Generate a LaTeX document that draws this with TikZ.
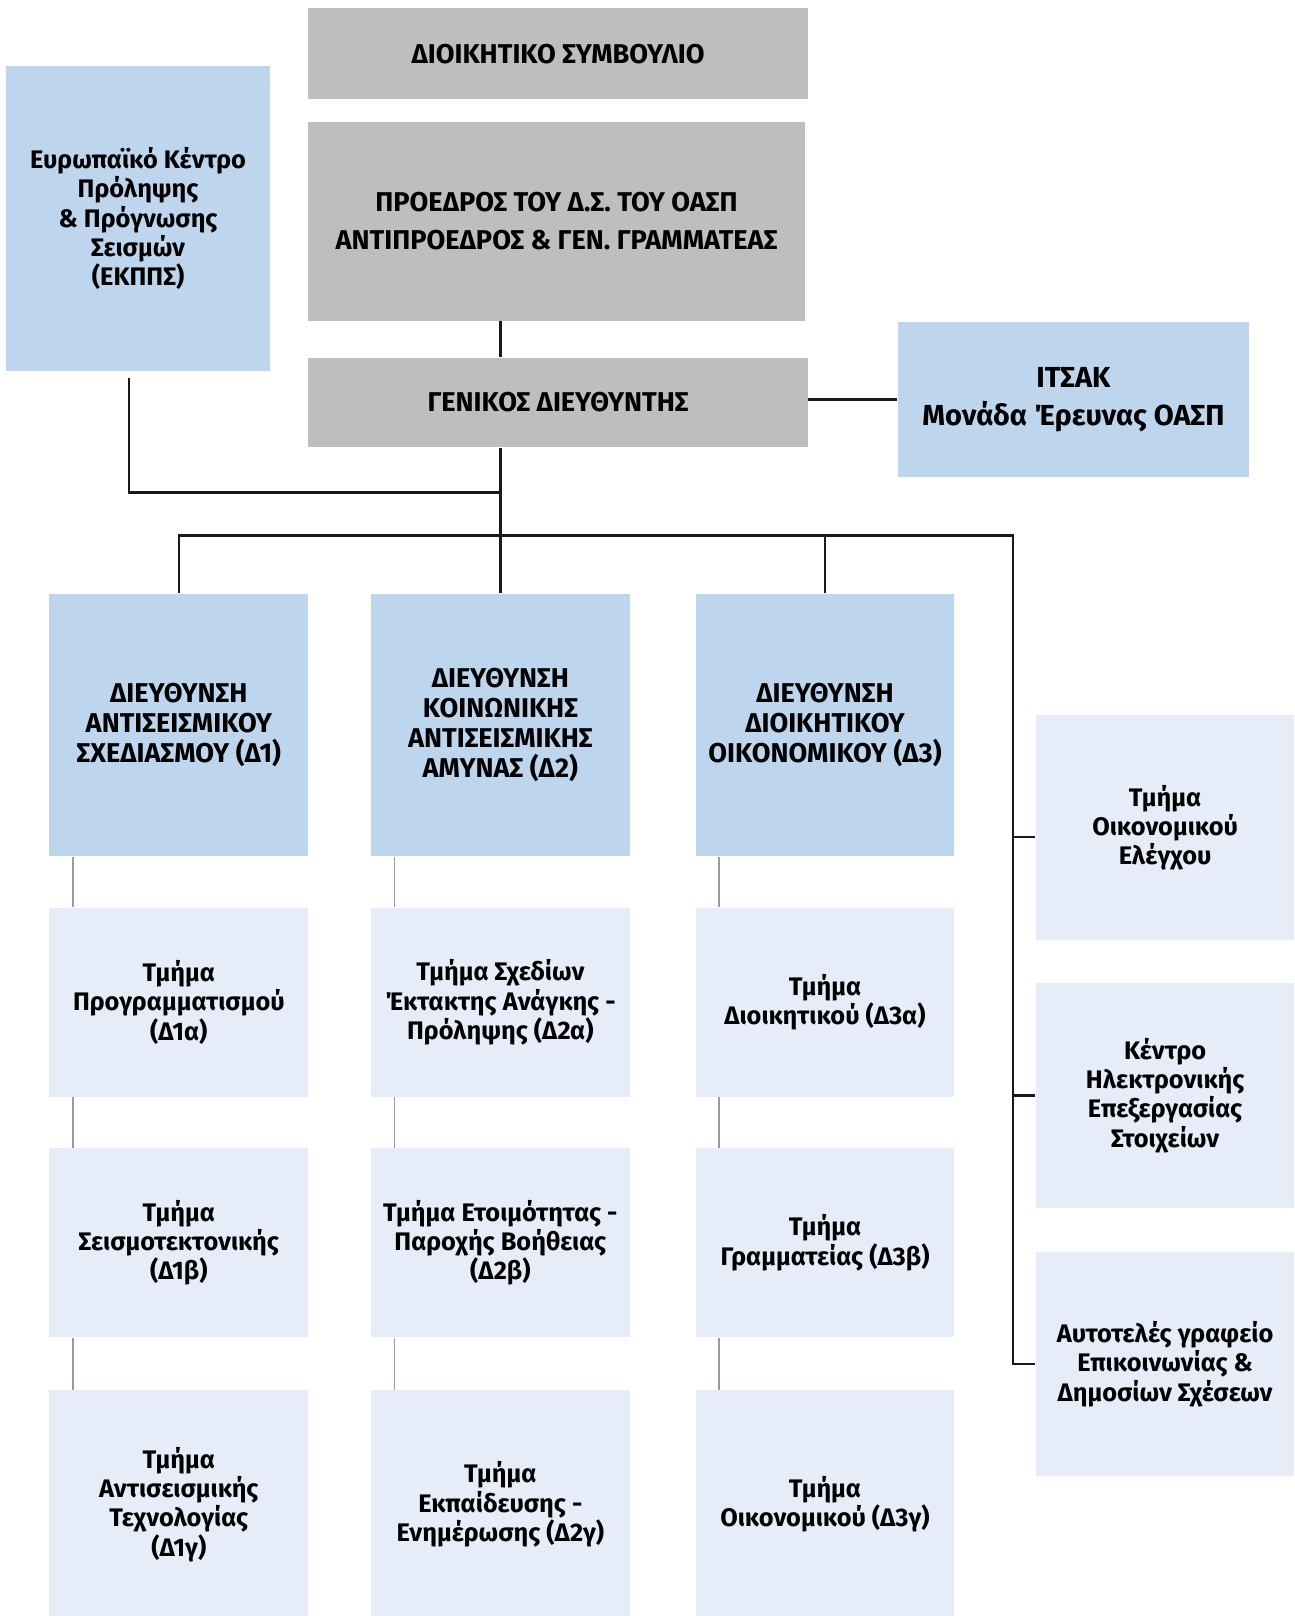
\documentclass[tikz,border=0pt]{standalone}
\usepackage{fontspec}
\setmainfont{Fira Sans}
\usetikzlibrary{positioning, calc}
\definecolor{boardgray}{HTML}{BCBEC0}
\definecolor{dirblue}{HTML}{BED5EE}
\definecolor{deptblue}{HTML}{E6ECF8}
\definecolor{subgray}{HTML}{9A9A9A}
\tikzset{
  unitnode/.style={
    rectangle, inner sep=0pt, align=center, font=\fontsize{14}{16.2}\selectfont\bfseries
  },
  capsunit/.style={unitnode, font=\fontsize{15}{16.4}\selectfont\bfseries},
  topunit/.style={capsunit, fill=boardgray, minimum width=97mm},
  dirunit/.style={capsunit, fill=dirblue, minimum width=50.2mm, minimum height=51mm},
  dept/.style={unitnode, fill=deptblue, minimum width=50.2mm, minimum height=36.7mm},
  link/.style={line width=1.4pt, black!90},
  sublink/.style={line width=0.85pt, subgray}
}

\begin{document}
\begin{tikzpicture}[x=0.2mm, y=-0.2mm]
    \useasboundingbox (0,0) rectangle (1256,1568);
    % board and management
    \node[topunit, minimum height=17.6mm] (board) at (541.5,52) {ΔΙΟΙΚΗΤΙΚΟ ΣΥΜΒΟΥΛΙΟ};
    \node[topunit, minimum width=96.4mm, minimum height=38.6mm, font=\fontsize{15}{21.5}\selectfont\bfseries] (pres) at (540,214.5) {ΠΡΟΕΔΡΟΣ ΤΟΥ Δ.Σ. ΤΟΥ ΟΑΣΠ\\ΑΝΤΙΠΡΟΕΔΡΟΣ \& ΓΕΝ. ΓΡΑΜΜΑΤΕΑΣ};
    \node[topunit, minimum height=17.4mm] (gm) at (541.5,390.5) {ΓΕΝΙΚΟΣ ΔΙΕΥΘΥΝΤΗΣ};
    \node[unitnode, fill=dirblue, minimum width=51.2mm, minimum height=59.2mm] (ekpps) at (134,212) {Ευρωπαϊκό Κέντρο\\Πρόληψης\\\& Πρόγνωσης\\Σεισμών\\(ΕΚΠΠΣ)};
    \node[unitnode, fill=dirblue, minimum width=68.2mm, minimum height=30.2mm, font=\fontsize{16}{21}\selectfont\bfseries] (itsak) at (1041.5,387.5) {ΙΤΣΑΚ\\Μονάδα Έρευνας ΟΑΣΠ};
    % directorates
    \node[dirunit] (d1) at (173.5,703.5) {ΔΙΕΥΘΥΝΣΗ\\ΑΝΤΙΣΕΙΣΜΙΚΟΥ\\ΣΧΕΔΙΑΣΜΟΥ (Δ1)};
    \node[dirunit] (d2) at (485.5,703.5) {ΔΙΕΥΘΥΝΣΗ\\ΚΟΙΝΩΝΙΚΗΣ\\ΑΝΤΙΣΕΙΣΜΙΚΗΣ\\ΑΜΥΝΑΣ (Δ2)};
    \node[dirunit] (d3) at (800.5,703.5) {ΔΙΕΥΘΥΝΣΗ\\ΔΙΟΙΚΗΤΙΚΟΥ\\ΟΙΚΟΝΟΜΙΚΟΥ (Δ3)};
    % departments
    \node[dept, below=9.8mm of d1] (d1a) {Τμήμα\\Προγραμματισμού\\(Δ1α)};
    \node[dept, below=9.8mm of d1a] (d1b) {Τμήμα\\Σεισμοτεκτονικής\\(Δ1β)};
    \node[dept, below=10.2mm of d1b, minimum height=44.2mm] (d1c) {Τμήμα\\Αντισεισμικής\\Τεχνολογίας\\(Δ1γ)};
    \node[dept, below=9.8mm of d2] (d2a) {Τμήμα Σχεδίων\\Έκτακτης Ανάγκης -\\Πρόληψης (Δ2α)};
    \node[dept, below=9.8mm of d2a] (d2b) {Τμήμα Ετοιμότητας -\\Παροχής Βοήθειας\\(Δ2β)};
    \node[dept, below=10.2mm of d2b, minimum height=44.2mm] (d2c) {Τμήμα\\Εκπαίδευσης -\\Ενημέρωσης (Δ2γ)};
    \node[dept, below=9.8mm of d3] (d3a) {Τμήμα\\Διοικητικού (Δ3α)};
    \node[dept, below=9.8mm of d3a] (d3b) {Τμήμα\\Γραμματείας (Δ3β)};
    \node[dept, below=10.2mm of d3b, minimum height=44.2mm] (d3c) {Τμήμα\\Οικονομικού (Δ3γ)};
    % independent units
    \node[dept, minimum height=43.6mm] (r1) at (1130.5,803) {Τμήμα\\Οικονομικού\\Ελέγχου};
    \node[dept, minimum height=43.6mm, below=8.2mm of r1] (r2) {Κέντρο\\Ηλεκτρονικής\\Επεξεργασίας\\Στοιχείων};
    \node[dept, minimum height=43.6mm, below=8.4mm of r2] (r3) {Αυτοτελές γραφείο\\Επικοινωνίας \&\\Δημοσίων Σχέσεων};
    % connectors
    \coordinate (hub) at ([yshift=19.6mm]d2.north);
    \coordinate (bus) at ([yshift=11.2mm]d2.north);
    \coordinate (busR) at ([xshift=99.5mm]bus);
    \draw[link] (pres.south -| d2.north) -- (gm.north -| d2.north);
    \draw[link] (gm.east |- itsak.west) -- (itsak.west);
    \draw[link] (gm.south -| d2.north) -- (d2.north);
    \draw[link] ([xshift=-1.8mm, yshift=-1.2mm]ekpps.south) |- (hub);
    \draw[link] (d1.north) |- (bus) -- (busR) |- (r3.west);
    \draw[link] (d3.north) -- (d3.north |- bus);
    \draw[link] (busR |- r2.west) -- (r2.west);
    \draw[link] ([yshift=-1.8mm]r1.west -| busR) -- ([yshift=-1.8mm]r1.west);
    \foreach \i in {1,2,3} {
      \draw[sublink] ([xshift=4.6mm]d\i.south west) -- ([xshift=4.6mm]d\i a.north west);
      \draw[sublink] ([xshift=4.6mm]d\i a.south west) -- ([xshift=4.6mm]d\i b.north west);
      \draw[sublink] ([xshift=4.6mm]d\i b.south west) -- ([xshift=4.6mm]d\i c.north west);
    }
\end{tikzpicture}
\end{document}
